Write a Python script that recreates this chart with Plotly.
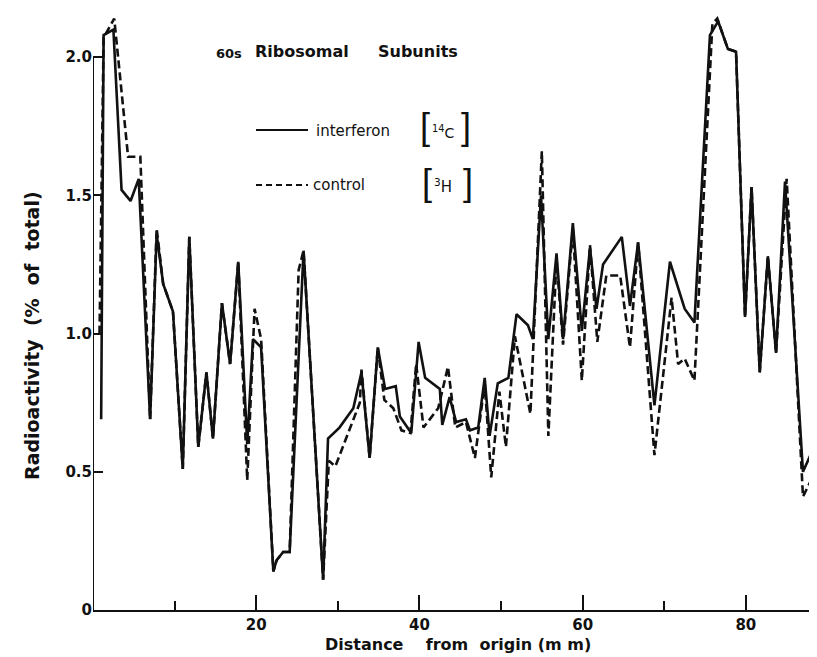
import plotly.graph_objects as go

# Interferon [14C] (solid)
interferon_x = [1.0, 1.3, 2.5, 3.5, 4.6, 5.6, 7.0, 7.8, 8.6, 9.8,
                11.0, 11.8, 12.9, 13.9, 14.7, 15.8, 16.8, 17.8, 18.9, 19.6,
                20.6, 22.1, 22.5, 23.3, 24.1, 25.8, 28.2, 28.8, 30.2, 31.9,
                32.9, 33.9, 34.9, 35.8, 37.1, 37.6, 39.0, 39.9, 40.7, 42.5,
                42.8, 43.7, 44.5, 45.7, 46.2, 47.2, 48.0, 48.6, 49.6, 50.9,
                51.9, 53.3, 53.9, 54.9, 55.8, 56.8, 57.6, 58.8, 59.9, 60.9,
                61.7, 62.5, 64.8, 65.8, 66.8, 68.8, 70.7, 72.5, 73.7, 75.6,
                76.6, 77.8, 78.8, 79.9, 80.7, 81.7, 82.7, 83.7, 84.8, 87.0,
                88.2, 89.2, 89.7]
interferon_y = [0.69, 2.08, 2.10, 1.52, 1.48, 1.56, 0.69, 1.36, 1.18, 1.08,
                0.51, 1.35, 0.59, 0.86, 0.62, 1.11, 0.89, 1.26, 0.60, 0.98,
                0.95, 0.14, 0.18, 0.21, 0.21, 1.30, 0.11, 0.62, 0.66, 0.73,
                0.86, 0.55, 0.95, 0.80, 0.81, 0.70, 0.64, 0.97, 0.84, 0.80,
                0.67, 0.77, 0.68, 0.69, 0.65, 0.66, 0.84, 0.63, 0.82, 0.84,
                1.07, 1.03, 0.98, 1.50, 0.98, 1.29, 0.98, 1.40, 1.01, 1.31,
                1.09, 1.25, 1.35, 1.10, 1.33, 0.74, 1.26, 1.09, 1.04, 2.08,
                2.13, 2.03, 2.02, 1.06, 1.53, 0.86, 1.28, 0.93, 1.55, 0.50,
                0.58, 0.57, 0.45]

# Control [3H] (dashed)
control_x = [0.8, 1.3, 2.6, 4.3, 5.8, 7.0, 7.8, 8.6, 9.8, 11.0,
             11.8, 12.9, 13.9, 14.7, 15.8, 16.8, 17.8, 18.9, 19.8, 20.6,
             22.1, 22.5, 23.3, 24.1, 25.2, 25.8, 28.2, 28.9, 29.7, 32.7,
             32.9, 33.9, 34.9, 35.7, 36.8, 37.8, 38.9, 39.6, 40.5, 42.3,
             43.5, 44.4, 45.7, 46.8, 48.0, 48.8, 49.8, 50.6, 51.7, 53.6,
             55.0, 55.8, 56.8, 57.6, 58.8, 59.9, 60.9, 61.8, 62.9, 64.6,
             65.8, 66.8, 68.8, 70.9, 71.7, 72.5, 73.7, 75.9, 76.5, 77.8,
             78.8, 79.9, 80.7, 81.7, 82.7, 83.7, 85.0, 87.0, 88.0, 89.2,
             89.7]
control_y = [1.00, 2.07, 2.14, 1.64, 1.64, 0.69, 1.38, 1.18, 1.08, 0.51,
             1.35, 0.59, 0.86, 0.62, 1.11, 0.89, 1.26, 0.47, 1.09, 0.98,
             0.14, 0.18, 0.21, 0.21, 1.23, 1.30, 0.11, 0.54, 0.52, 0.75,
             0.87, 0.55, 0.95, 0.76, 0.73, 0.65, 0.64, 0.89, 0.66, 0.73,
             0.88, 0.66, 0.68, 0.55, 0.82, 0.48, 0.79, 0.59, 0.99, 0.71,
             1.66, 0.63, 1.27, 0.96, 1.38, 0.83, 1.32, 0.97, 1.21, 1.21,
             0.95, 1.33, 0.56, 1.13, 0.89, 0.91, 0.83, 2.12, 2.14, 2.03,
             2.02, 1.06, 1.53, 0.86, 1.28, 0.93, 1.56, 0.41, 0.47, 0.47,
             0.47]

y_tickvals = [0, 0.5, 1.0, 1.5, 2.0]
y_ticktext = ["0", "0.5", "1.0", "1.5", "2.0"]
x_tickvals = [20, 40, 60, 80]
x_minor_tickvals = [10, 30, 50, 70]

W, H = 817, 657
L, R, T, B = 85, 0, 5, 55
PW, PH = W - L - R, H - T - B

def px(xp):
    return (xp - L) / PW

def py(yp):
    return (H - B - yp) / PH

FONT = "DejaVu Sans"
INK = "#111111"

fig = go.Figure()
fig.add_trace(go.Scatter(x=control_x, y=control_y, mode="lines",
                         line=dict(color=INK, width=2.6, dash="8px,4px"),
                         name="control", showlegend=False))
fig.add_trace(go.Scatter(x=interferon_x, y=interferon_y, mode="lines",
                         line=dict(color=INK, width=2.6),
                         name="interferon", showlegend=False))

shapes = [
    # y axis line up to 2.0
    dict(type="line", xref="x", yref="y", x0=0, x1=0, y0=0, y1=2.0,
         line=dict(color=INK, width=2)),
    # legend samples
    dict(type="line", xref="paper", yref="paper", x0=px(248), x1=px(300),
         y0=py(122), y1=py(122), line=dict(color=INK, width=2)),
    dict(type="line", xref="paper", yref="paper", x0=px(248), x1=px(300),
         y0=py(177), y1=py(177), line=dict(color=INK, width=2, dash="6px,4px")),
]

ann = []
def text(t, xp, yp, size, anchor="left", bold=False, color=INK, angle=0, family=FONT):
    ann.append(dict(text=f"<b>{t}</b>" if bold else t, xref="paper", yref="paper",
                    x=px(xp), y=py(yp), xanchor=anchor, yanchor="middle",
                    showarrow=False, textangle=angle,
                    font=dict(family=family, size=size, color=color)))

# title
text("60s", 206, 45, 13, bold=True)
text("Ribosomal", 245, 43, 16, bold=True)
text("Subunits", 368, 43, 16, bold=True)
# legend
text("interferon", 306, 123, 15)
text("[", 410, 118, 36, family="Liberation Sans")
text("<sup>14</sup>C", 422, 124, 14)
text("]", 451, 118, 36, family="Liberation Sans")
text("control", 303, 177, 15)
text("[", 412, 175, 36, family="Liberation Sans")
text("<sup>3</sup>H", 424, 178, 15)
text("]", 453, 175, 36, family="Liberation Sans")
# axis titles
text("Radioactivity&nbsp;&nbsp;(%&nbsp;&nbsp;of&nbsp;&nbsp;total)", 24, 328, 19, anchor="center", bold=True, angle=-90)
text("Distance&nbsp;&nbsp;&nbsp;&nbsp;from&nbsp;&nbsp;origin&nbsp;(m&nbsp;m)", 450, 636, 16, anchor="center", bold=True)

fig.update_layout(
    width=W, height=H,
    margin=dict(l=L, r=R, t=T, b=B, pad=0),
    paper_bgcolor="white", plot_bgcolor="white",
    shapes=shapes, annotations=ann,
    xaxis=dict(range=[0, 89.7], showgrid=False, zeroline=False,
               showline=True, linecolor=INK, linewidth=2,
               ticks="inside", ticklen=15, tickwidth=2, tickcolor=INK,
               tickvals=x_tickvals, ticktext=[str(v) for v in x_tickvals],
               tickfont=dict(family=FONT, size=15, color=INK, weight="bold"),
               minor=dict(tickvals=x_minor_tickvals, ticks="inside", ticklen=9,
                          tickwidth=2, tickcolor=INK)),
    yaxis=dict(range=[0, 2.16], showgrid=False, zeroline=False, showline=False,
               ticks="inside", ticklen=10, tickwidth=2, tickcolor=INK,
               tickvals=y_tickvals, ticktext=y_ticktext,
               tickfont=dict(family=FONT, size=15, color=INK, weight="bold")),
)

fig.write_html("out.html")
